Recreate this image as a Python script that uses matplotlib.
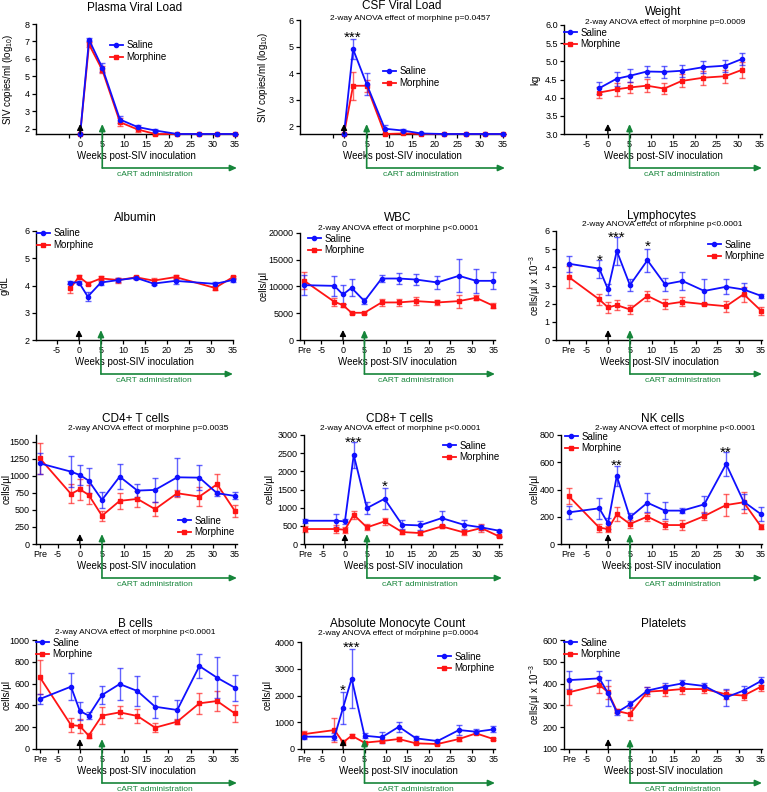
import matplotlib
matplotlib.use("Agg")
import matplotlib.pyplot as plt
from matplotlib.ticker import FormatStrFormatter

plt.rcParams['font.family'] = ['Liberation Sans', 'DejaVu Sans']
plt.rcParams['mathtext.fontset'] = 'custom'
plt.rcParams['mathtext.rm'] = 'Liberation Sans'
plt.rcParams['mathtext.it'] = 'Liberation Sans:italic'

# ---- data (means and SEM) ----
PRE = -9  # x position used for the "Pre" time point
weeks_vl = [0, 2, 5, 9, 13, 17, 22, 27, 31, 35]
weeks_weight = [-2, 2, 5, 9, 13, 17, 22, 27, 31]
weeks_alb = [-2, 0, 2, 5, 9, 13, 17, 22, 31, 35]
weeks_blood = [PRE, -2, 0, 2, 5, 9, 13, 17, 22, 27, 31, 35]

pvl_sal = [1.7, 7.1, 5.5, 2.53, 2.1, 1.9, 1.7, 1.7, 1.7, 1.7]
pvl_sal_err = [0, 0.08, 0.25, 0.22, 0.1, 0.08, 0.02, 0.02, 0.02, 0.02]
pvl_mor = [1.7, 6.83, 5.37, 2.38, 1.96, 1.7, 1.7, 1.7, 1.7, 1.7]
pvl_mor_err = [0, 0.15, 0.2, 0.25, 0.12, 0.03, 0, 0, 0, 0]

csf_sal = [1.7, 4.9, 3.58, 1.9, 1.83, 1.72, 1.7, 1.7, 1.7, 1.7]
csf_sal_err = [0, 0.38, 0.42, 0.15, 0.06, 0.02, 0, 0, 0, 0]
csf_mor = [1.7, 3.52, 3.52, 1.7, 1.72, 1.7, 1.7, 1.7, 1.7, 1.7]
csf_mor_err = [0, 0.53, 0.22, 0, 0.03, 0, 0, 0, 0, 0]

wt_sal = [4.26, 4.52, 4.60, 4.72, 4.71, 4.74, 4.84, 4.88, 5.07]
wt_sal_err = [0.17, 0.19, 0.18, 0.15, 0.16, 0.17, 0.17, 0.17, 0.17]
wt_mor = [4.14, 4.23, 4.28, 4.33, 4.25, 4.46, 4.55, 4.59, 4.77]
wt_mor_err = [0.16, 0.18, 0.16, 0.18, 0.15, 0.18, 0.19, 0.18, 0.22]

alb_sal = [4.11, 4.11, 3.59, 4.11, 4.2, 4.28, 4.07, 4.17, 4.06, 4.2]
alb_sal_err = [0.05, 0.07, 0.17, 0.08, 0.06, 0.05, 0.04, 0.1, 0.08, 0.06]
alb_mor = [3.89, 4.32, 4.07, 4.26, 4.2, 4.3, 4.18, 4.31, 3.91, 4.3]
alb_mor_err = [0.15, 0.08, 0.06, 0.09, 0.09, 0.06, 0.08, 0.08, 0.06, 0.06]

wbc_sal = [10250, 10120, 8510, 9750, 7270, 11490, 11490, 11300, 10750, 12000, 11060, 11060]
wbc_sal_err = [1850, 1900, 1700, 1600, 500, 600, 1000, 1100, 1300, 3100, 2300, 1600]
wbc_mor = [11060, 7140, 6520, 5090, 5090, 7020, 7020, 7270, 7020, 7270, 7890, 6400]
wbc_mor_err = [1600, 700, 300, 150, 150, 600, 700, 800, 500, 1200, 500, 500]

lym_sal = [4.2, 3.93, 2.78, 4.9, 3.02, 4.39, 3.07, 3.25, 2.7, 2.93, 2.78, 2.43]
lym_sal_err = [0.45, 0.5, 0.3, 0.75, 0.35, 0.62, 0.35, 0.5, 0.65, 0.42, 0.35, 0.12]
lym_mor = [3.47, 2.23, 1.79, 1.92, 1.68, 2.43, 1.96, 2.1, 1.97, 1.86, 2.52, 1.61]
lym_mor_err = [0.6, 0.3, 0.3, 0.27, 0.27, 0.27, 0.27, 0.25, 0.05, 0.3, 0.42, 0.22]

cd4_sal = [1183, 1062, 1013, 930, 648, 989, 784, 794, 979, 974, 745, 706]
cd4_sal_err = [160, 230, 140, 180, 115, 185, 100, 180, 280, 180, 40, 50]
cd4_mor = [1256, 735, 803, 721, 414, 633, 662, 511, 745, 696, 877, 487]
cd4_mor_err = [230, 140, 150, 140, 70, 120, 120, 100, 50, 140, 150, 85]

cd8_sal = [640, 640, 622, 2451, 988, 1244, 530, 512, 713, 530, 457, 366]
cd8_sal_err = [60, 180, 60, 370, 170, 290, 120, 120, 190, 120, 60, 30]
cd8_mor = [412, 412, 393, 805, 457, 622, 329, 302, 485, 320, 439, 210]
cd8_mor_err = [80, 120, 80, 110, 80, 100, 60, 50, 50, 70, 100, 20]

nk_sal = [232, 262, 152, 499, 196, 303, 245, 245, 291, 587, 311, 218]
nk_sal_err = [50, 75, 40, 70, 35, 70, 65, 20, 60, 85, 55, 50]
nk_mor = [352, 120, 110, 218, 147, 201, 139, 139, 205, 286, 306, 127]
nk_mor_err = [60, 30, 25, 50, 30, 30, 30, 35, 30, 80, 75, 20]

b_sal = [459, 572, 349, 306, 495, 596, 532, 388, 358, 761, 654, 563]
b_sal_err = [45, 125, 80, 30, 80, 145, 135, 100, 95, 110, 190, 120]
b_mor = [657, 220, 211, 122, 306, 336, 303, 196, 251, 419, 440, 327]
b_mor_err = [155, 60, 60, 25, 75, 55, 65, 40, 25, 95, 90, 75]

mono_sal = [460, 460, 1540, 2634, 497, 435, 832, 398, 298, 708, 646, 733]
mono_sal_err = [80, 130, 600, 1110, 100, 200, 190, 80, 40, 180, 100, 110]
mono_mor = [559, 708, 248, 497, 236, 298, 373, 211, 186, 373, 584, 373]
mono_mor_err = [130, 460, 100, 60, 40, 40, 60, 30, 30, 70, 40, 40]

plt_sal = [416, 424, 355, 268, 305, 368, 386, 401, 389, 337, 368, 412]
plt_sal_err = [40, 35, 60, 12, 15, 15, 15, 15, 15, 40, 20, 18]
plt_mor = [360, 394, 360, 274, 261, 363, 368, 375, 375, 351, 345, 386]
plt_mor_err = [60, 35, 30, 10, 30, 20, 25, 22, 20, 20, 20, 20]

# significance marks: (week, y, label)
stars_csf = [(2, 5.5, '***')]
stars_lym = [(-2, 4.6, '*'), (2, 5.85, '***'), (9, 5.34, '*')]
stars_cd8 = [(2, 2900, '***'), (9, 1680, '*')]
stars_nk = [(2, 605, '**'), (27, 700, '**')]
stars_mono = [(0, 2320, '*'), (2, 3940, '***')]

anova = '2-way ANOVA effect of morphine '

# ---- layout ----
W, H = 767, 792
BLUE = '#1010ff'
RED = '#ff1414'
GREEN = '#16853a'
PT = 72 / 100  # points per pixel

fig = plt.figure(figsize=(W / 100, H / 100), dpi=100)

x_vl = ([-2.5] + list(range(0, 36, 5)), [''] + [str(v) for v in range(0, 36, 5)])
x_neg = (list(range(-5, 36, 5)), [str(v) for v in range(-5, 36, 5)])
x_pre = ([PRE] + list(range(-5, 36, 5)), ['Pre'] + [str(v) for v in range(-5, 36, 5)])

ylab_vl = 'SIV copies/ml (log$_{10}$)'
ylab_cells = 'cells/µl'
ylab_k = 'cells/µl x 10$^{-3}$'

panels = [
    dict(box=(36, 24, 237, 134), xlim=(-10, 35.5), ylim=(1.7, 8), yt=range(2, 9), xt=x_vl,
         x=weeks_vl, s=pvl_sal, se=pvl_sal_err, m=pvl_mor, me=pvl_mor_err,
         title='Plasma Viral Load', sub=None, t_xy=(135, 8), s_xy=None,
         ylab=ylab_vl, ylx=-28, leg=(110, 47), stars=[]),
    dict(box=(300, 20, 505, 134), xlim=(-9.7, 35.5), ylim=(1.7, 6), yt=range(2, 7), xt=x_vl,
         x=weeks_vl, s=csf_sal, se=csf_sal_err, m=csf_mor, me=csf_mor_err,
         title='CSF Viral Load', sub=anova + 'p=0.0457', t_xy=(402, 6), s_xy=(410, 18),
         ylab=ylab_vl, ylx=-37, leg=(383, 73), stars=stars_csf),
    dict(box=(564, 25, 762, 134), xlim=(-10.1, 35.5), ylim=(3, 6), yt=[3, 3.5, 4, 4.5, 5, 5.5, 6], xt=x_neg,
         x=weeks_weight, s=wt_sal, se=wt_sal_err, m=wt_mor, me=wt_mor_err,
         title='Weight', sub=anova + 'p=0.0009', t_xy=(663, 12), s_xy=(665, 22.5),
         ylab='kg', ylx=-29, leg=(564, 34), stars=[], yfmt='%.1f'),
    dict(box=(36, 231, 233, 340), xlim=(-9.8, 35.1), ylim=(2, 6), yt=range(2, 7), xt=x_neg,
         x=weeks_alb, s=alb_sal, se=alb_sal_err, m=alb_mor, me=alb_mor_err,
         title='Albumin', sub=None, t_xy=(135, 218), s_xy=None,
         ylab='g/dL', ylx=-31, leg=(37, 235), stars=[]),
    dict(box=(300, 233, 495, 340), xlim=(-10, 35.4), ylim=(0, 20000), yt=range(0, 20001, 5000), xt=x_pre,
         x=weeks_blood, s=wbc_sal, se=wbc_sal_err, m=wbc_mor, me=wbc_mor_err,
         title='WBC', sub=anova + 'p<0.0001', t_xy=(398, 218), s_xy=(398, 228),
         ylab=ylab_cells, ylx=-36, leg=(308, 240), stars=[]),
    dict(box=(556, 231, 762, 340), xlim=(-11.9, 35.2), ylim=(0, 6), yt=range(0, 7), xt=x_pre,
         x=weeks_blood, s=lym_sal, se=lym_sal_err, m=lym_mor, me=lym_mor_err,
         title='Lymphocytes', sub=anova + 'p<0.0001', t_xy=(662, 216), s_xy=(662, 224.5),
         ylab=ylab_k, ylx=-21, leg=(708, 246), stars=stars_lym),
    dict(box=(36, 435, 237, 544), xlim=(-9.9, 35.5), ylim=(0, 1600), yt=range(0, 1501, 250), xt=x_pre,
         x=weeks_blood, s=cd4_sal, se=cd4_sal_err, m=cd4_mor, me=cd4_mor_err,
         title='CD4+ T cells', sub=anova + 'p=0.0035', t_xy=(136, 419), s_xy=(148, 429),
         ylab=ylab_cells, ylx=-29, leg=(178, 522), stars=[]),
    dict(box=(304, 435, 502, 544), xlim=(-9.3, 35.7), ylim=(0, 3000), yt=range(0, 3001, 500), xt=x_pre,
         x=weeks_blood, s=cd8_sal, se=cd8_sal_err, m=cd8_mor, me=cd8_mor_err,
         title='CD8+ T cells', sub=anova + 'p<0.0001', t_xy=(400, 419), s_xy=(400, 428.5),
         ylab=ylab_cells, ylx=-34, leg=(443, 447), stars=stars_cd8),
    dict(box=(561, 435, 762, 544), xlim=(-10.75, 35.2), ylim=(0, 800), yt=range(0, 801, 200), xt=x_pre,
         x=weeks_blood, s=nk_sal, se=nk_sal_err, m=nk_mor, me=nk_mor_err,
         title='NK cells', sub=anova + 'p<0.0001', t_xy=(663, 419), s_xy=(675, 428.5),
         ylab=ylab_cells, ylx=-26, leg=(565, 438), stars=stars_nk),
    dict(box=(36, 640, 237, 749), xlim=(-9.9, 35.5), ylim=(0, 1000), yt=range(0, 1001, 200), xt=x_pre,
         x=weeks_blood, s=b_sal, se=b_sal_err, m=b_mor, me=b_mor_err,
         title='B cells', sub=anova + 'p<0.0001', t_xy=(135, 624), s_xy=(135, 633),
         ylab=ylab_cells, ylx=-29, leg=(36, 644), stars=[]),
    dict(box=(301, 642, 495, 749), xlim=(-9.8, 35.4), ylim=(0, 4000), yt=range(0, 4001, 1000), xt=x_pre,
         x=weeks_blood, s=mono_sal, se=mono_sal_err, m=mono_mor, me=mono_mor_err,
         title='Absolute Monocyte Count', sub=anova + 'p=0.0004', t_xy=(398, 623.5), s_xy=(398, 633.5),
         ylab=ylab_cells, ylx=-33, leg=(438, 658), stars=stars_mono),
    dict(box=(564, 640, 762, 749), xlim=(-10.1, 35.2), ylim=(100, 600), yt=range(100, 601, 100), xt=x_pre,
         x=weeks_blood, s=plt_sal, se=plt_sal_err, m=plt_mor, me=plt_mor_err,
         title='Platelets', sub=None, t_xy=(663, 624), s_xy=None,
         ylab=ylab_k, ylx=-29, leg=(564, 644), stars=[]),
]


def draw_panel(p):
    l, t, r, b = p['box']
    ax = fig.add_axes([l / W, 1 - b / H, (r - l) / W, (b - t) / H])
    ax.set_xlim(*p['xlim'])
    ax.set_ylim(*p['ylim'])
    for side in ('top', 'right'):
        ax.spines[side].set_visible(False)
    for side in ('left', 'bottom'):
        ax.spines[side].set_linewidth(1.0)
    ax.tick_params(direction='out', length=3, width=0.9, labelsize=6.5, pad=1.5)
    ax.set_xticks(p['xt'][0])
    ax.set_xticklabels(p['xt'][1])
    ax.set_yticks(list(p['yt']))
    if p.get('yfmt'):
        ax.yaxis.set_major_formatter(FormatStrFormatter(p['yfmt']))

    for ys, es, col, mk, lab in ((p['m'], p['me'], RED, 's', 'Morphine'),
                                 (p['s'], p['se'], BLUE, 'o', 'Saline')):
        ax.errorbar(p['x'], ys, yerr=es, fmt='none', ecolor=col, alpha=0.65,
                    elinewidth=1.0, capsize=2, capthick=1.0, clip_on=False, zorder=2)
        ax.plot(p['x'], ys, color=col, lw=1.3, marker=mk, ms=3, label=lab,
                clip_on=False, zorder=3)

    handles, labels = ax.get_legend_handles_labels()
    lx, ly = p['leg']
    ax.legend(handles[::-1], labels[::-1], loc='upper left',
              bbox_to_anchor=(lx / W, 1 - (ly - 6.5) / H), bbox_transform=fig.transFigure,
              frameon=False, fontsize=7, borderpad=0, borderaxespad=0,
              handlelength=1.3, handletextpad=0.4, labelspacing=0.2)

    ax.set_xlabel('Weeks post-SIV inoculation', fontsize=7, labelpad=1)
    ax.set_ylabel(p['ylab'], fontsize=7)
    ax.yaxis.label.set_va('center')
    ax.yaxis.set_label_coords(p['ylx'] / (r - l), 0.5)

    fig.text(p['t_xy'][0] / W, 1 - p['t_xy'][1] / H, p['title'],
             ha='center', va='center', fontsize=8.5)
    if p['sub']:
        fig.text(p['s_xy'][0] / W, 1 - p['s_xy'][1] / H, p['sub'],
                 ha='center', va='center', fontsize=6)

    for sx, sy, st in p['stars']:
        ax.annotate(st, xy=(sx, sy), xytext=(0, -3), textcoords='offset points',
                    ha='center', va='center', fontsize=11, annotation_clip=False)

    # infection (black) and cART start (green) arrows
    kw = dict(xycoords=('data', 'axes points'), textcoords=('data', 'axes points'),
              annotation_clip=False)
    ax.annotate('', xy=(0, 10 * PT), xytext=(0, 0),
                arrowprops=dict(arrowstyle='-|>,head_length=0.35,head_width=0.18',
                                color='black', lw=1.0, shrinkA=0, shrinkB=0), **kw)
    ax.annotate('', xy=(5, 10 * PT), xytext=(5, -34 * PT),
                arrowprops=dict(arrowstyle='-|>,head_length=0.4,head_width=0.18',
                                color=GREEN, lw=1.2, shrinkA=0, shrinkB=0), **kw)
    ax.annotate('', xy=(p['xlim'][1], -34 * PT), xytext=(5, -34 * PT),
                arrowprops=dict(arrowstyle='-|>,head_length=0.4,head_width=0.18',
                                color=GREEN, lw=1.2, shrinkA=0, shrinkB=0), **kw)
    ax.annotate('cART administration', xy=(17, -37 * PT), ha='center', va='top',
                fontsize=6, color=GREEN, **kw)
    return ax


for p in panels:
    draw_panel(p)

fig.savefig('out.png', dpi=100)
